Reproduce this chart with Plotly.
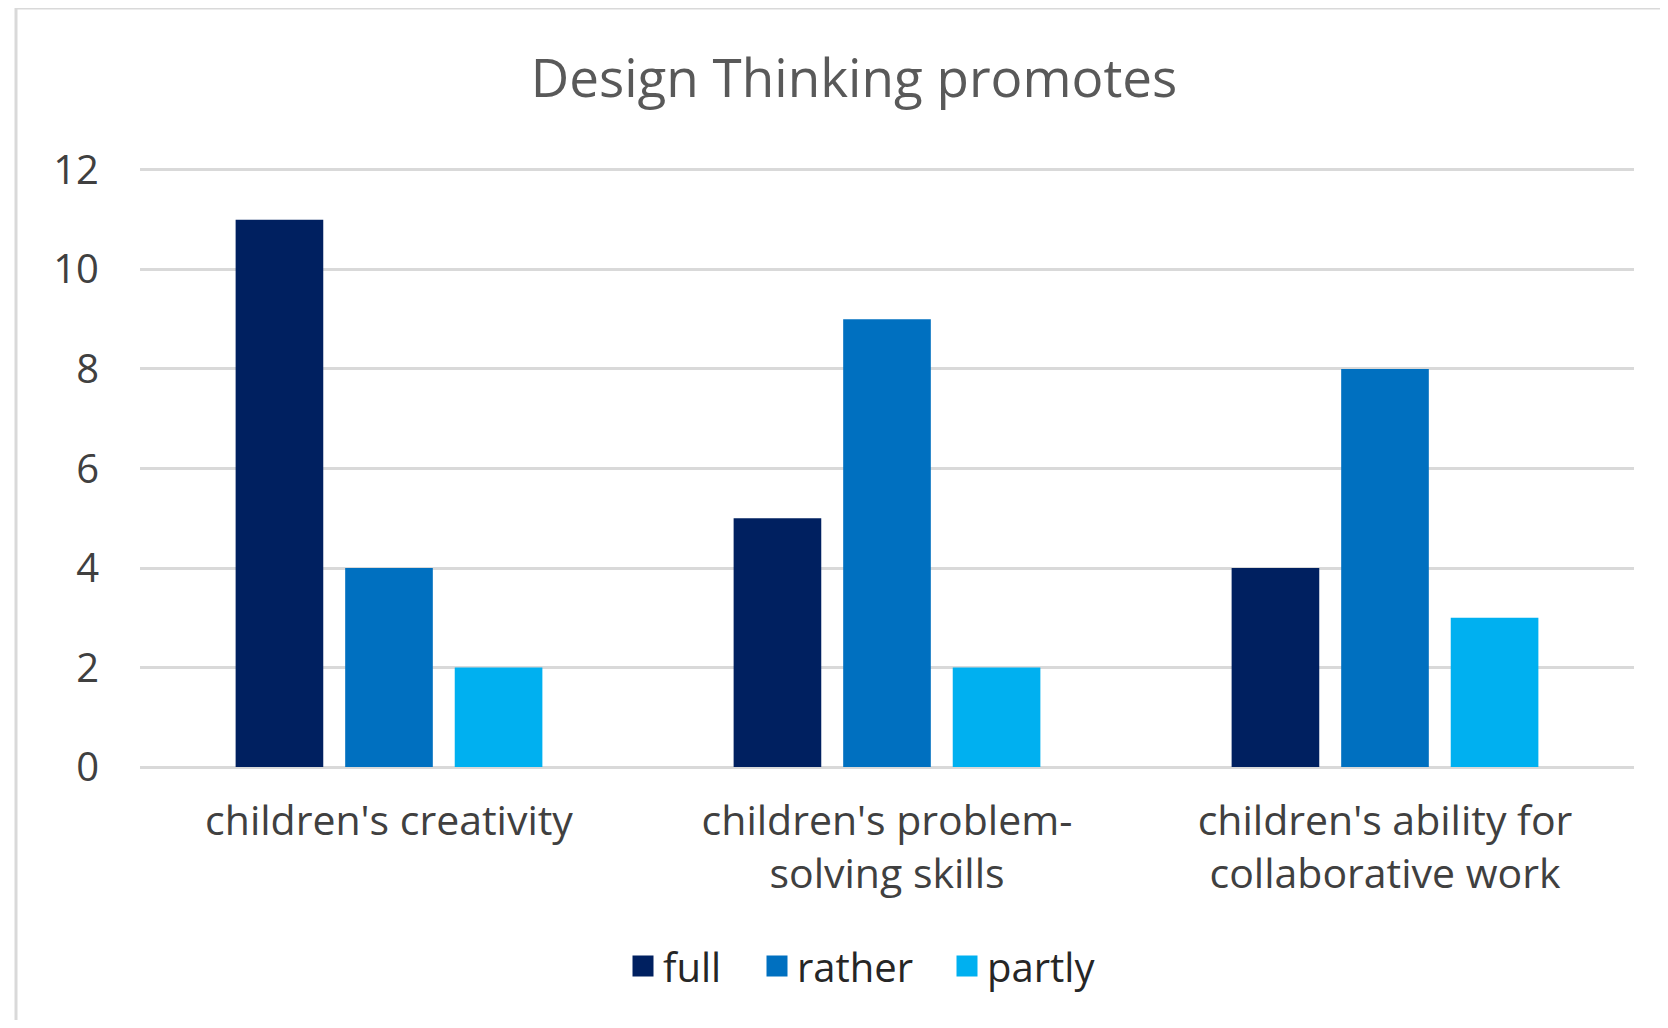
import plotly.graph_objects as go

categories = ["children's creativity", "children's problem-<br>solving skills", "children's ability for<br>collaborative work"]
series_names = ["full", "rather", "partly"]
full_values = [11, 5, 4]
rather_values = [4, 9, 8]
partly_values = [2, 2, 3]
colors = ["#002060", "#0070C0", "#00B0F0"]
y_ticks = [0, 2, 4, 6, 8, 10, 12]
legend_widths = [89, 145, 107]

FONT = "'Open Sans', 'Noto Sans', sans-serif"
OFF = 8  # page body margin
W, H = 1668 - 2 * OFF, 1028 - 2 * OFF
# desired page-pixel positions of plot area
PL, PR, PT, PB = 140, 1634, 168, 767
L, R, T, B = PL - OFF, W - (PR - OFF), PT - OFF, H - (PB - OFF)

fig = go.Figure()
for name, vals, col in zip(series_names, [full_values, rather_values, partly_values], colors):
    fig.add_trace(go.Bar(x=categories, y=vals, name=name, marker_color=col,
                         marker_line_width=0, legendgroup=name, showlegend=False))
for name, col, lw in zip(series_names, colors, legend_widths):
    fig.add_trace(go.Scatter(x=[None], y=[None], mode="markers", name=name, legendgroup=name,
                             legendwidth=lw,
                             marker=dict(symbol="square", size=16, color=col,
                                         line=dict(color=col, width=6))))

pw = W - L - R
ph = H - T - B
def px_x(p):
    return (p - OFF - L) / pw
def px_y(p):
    return (H - B - (p - OFF)) / ph

fig.update_layout(
    width=W, height=H, autosize=False,
    margin=dict(l=L, r=R, t=T, b=B, pad=0),
    paper_bgcolor="white", plot_bgcolor="white",
    barmode="group", bargap=0.34, bargroupgap=0.2,
    title=dict(text="Design Thinking promotes", x=(854 - OFF) / W, xanchor="center",
               y=1 - (78 - OFF) / H, yanchor="middle", xref="container", yref="container",
               font=dict(family=FONT, size=53, color="#595959")),
    font=dict(family=FONT, color="#404040"),
    showlegend=True,
    legend=dict(orientation="h", x=px_x(623), xanchor="left", y=px_y(966), yanchor="middle",
                font=dict(family=FONT, size=40, color="#262626"), bgcolor="rgba(0,0,0,0)",
                itemclick=False),
    xaxis=dict(showgrid=False, showline=False, ticks="", tickfont=dict(family=FONT, size=41, color="#404040"),
               ticklabelstandoff=26),
    yaxis=dict(range=[0, 12.04], tickvals=y_ticks, showgrid=True, gridcolor="#D9D9D9", gridwidth=3,
               zeroline=True, zerolinecolor="#D9D9D9", zerolinewidth=3, showline=False, ticks="",
               tickfont=dict(family=FONT, size=40, color="#404040"), ticklabelstandoff=40),
    shapes=[
        dict(type="line", xref="paper", yref="paper", x0=px_x(16), x1=px_x(16), y0=px_y(1040), y1=px_y(8),
             line=dict(color="#D9D9D9", width=3)),
        dict(type="line", xref="paper", yref="paper", x0=px_x(16), x1=px_x(1680), y0=px_y(8), y1=px_y(8),
             line=dict(color="#D9D9D9", width=3)),
    ],
)

fig.write_html("out.html")
